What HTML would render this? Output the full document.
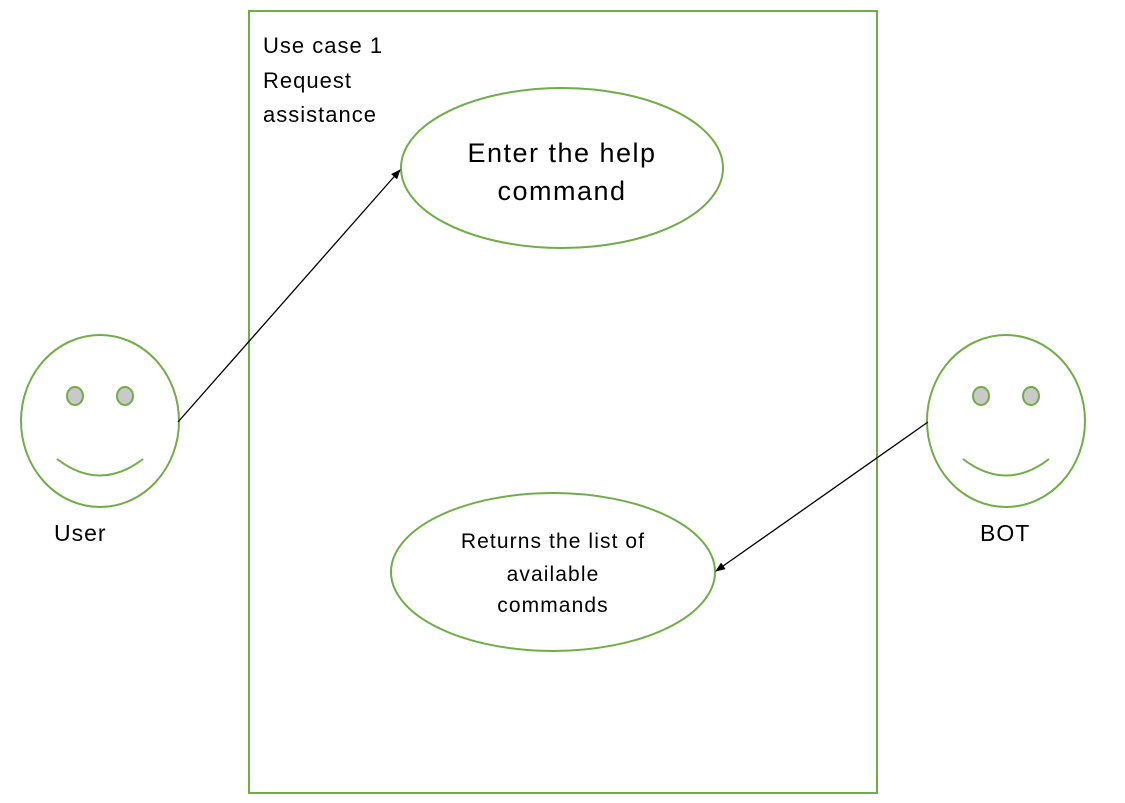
<!DOCTYPE html>
<html><head><meta charset="utf-8"><style>
html,body{margin:0;padding:0;background:#fff;}
svg{display:block;}
text{font-family:"Liberation Sans",sans-serif;fill:#000;}
</style></head><body>
<svg width="1125" height="803" viewBox="0 0 1125 803" xmlns="http://www.w3.org/2000/svg">
<defs><marker id="a" markerWidth="10" markerHeight="8" refX="9" refY="4" orient="auto" markerUnits="userSpaceOnUse"><path d="M0,0 L10,4 L0,8 z" fill="#000"/></marker></defs>
<rect x="249" y="11" width="628" height="782" fill="none" stroke="#70ad47" stroke-width="2"/>
<g font-size="22" letter-spacing="1">
<text x="263" y="53">Use case 1</text>
<text x="263" y="88">Request</text>
<text x="263" y="122">assistance</text>
</g>
<ellipse cx="562" cy="168" rx="161" ry="80" fill="#fff" stroke="#70ad47" stroke-width="2"/>
<text x="562" y="162" font-size="27" letter-spacing="1.5" text-anchor="middle">Enter the help</text>
<text x="562" y="200" font-size="27" letter-spacing="1.5" text-anchor="middle">command</text>
<ellipse cx="553" cy="572" rx="162" ry="79" fill="#fff" stroke="#70ad47" stroke-width="2"/>
<g font-size="21" letter-spacing="1.1" text-anchor="middle">
<text x="553" y="548">Returns the list of</text>
<text x="553" y="581">available</text>
<text x="553" y="612">commands</text>
</g>
<g fill="none" stroke="#70ad47" stroke-width="2">
<ellipse cx="100" cy="421" rx="79" ry="86" fill="#fff"/>
<ellipse cx="75" cy="396" rx="8" ry="9" fill="#c9c9c9"/>
<ellipse cx="125" cy="396" rx="8" ry="9" fill="#c9c9c9"/>
<path d="M57,459 Q100,492 143,459"/>
<ellipse cx="1006" cy="421" rx="79" ry="86" fill="#fff"/>
<ellipse cx="981" cy="396" rx="8" ry="9" fill="#c9c9c9"/>
<ellipse cx="1031" cy="396" rx="8" ry="9" fill="#c9c9c9"/>
<path d="M963,459 Q1006,492 1049,459"/>
</g>
<text x="54" y="541" font-size="23" letter-spacing="1">User</text>
<text x="980" y="541" font-size="23" letter-spacing="1">BOT</text>
<line x1="178" y1="422" x2="400" y2="170" stroke="#000" stroke-width="1.3" marker-end="url(#a)"/>
<line x1="928" y1="422" x2="716" y2="571" stroke="#000" stroke-width="1.3" marker-end="url(#a)"/>
</svg>
</body></html>
